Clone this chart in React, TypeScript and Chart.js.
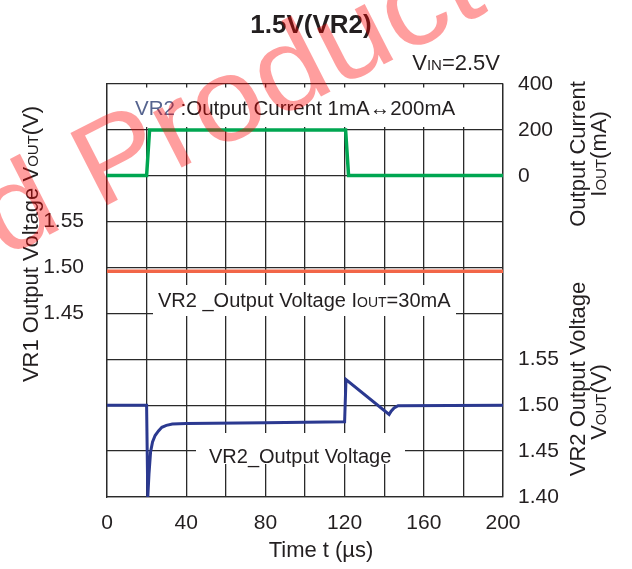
import React, { useEffect, useRef } from 'react';
import { Chart, registerables } from 'chart.js';

Chart.register(...registerables);

// ---- data ----
const timeCurrent = [0, 20, 21.5, 120.5, 122, 200];
const currentMA = [1, 1, 200, 200, 1, 1];

const timeVR1 = [0, 200];
const vr1Volts = [1.496, 1.496];

const timeVR2 = [0, 20, 20.6, 21.2, 22, 23, 24.3, 26, 27.7, 30, 33, 40, 80, 120, 120.7, 142.5, 143.5, 145, 147, 200];
const vr2Volts = [1.5, 1.5, 1.4, 1.425, 1.449, 1.46, 1.467, 1.472, 1.476, 1.478, 1.4795, 1.48, 1.481, 1.482, 1.528, 1.49, 1.4935, 1.497, 1.4995, 1.5];

const xTickLabels = [0, 40, 80, 120, 160, 200];
const leftTickLabels = ['1.45', '1.50', '1.55'];
const currentTickLabels = [0, 200, 400];
const vr2TickLabels = ['1.40', '1.45', '1.50', '1.55'];

const X_MIN = 0, X_MAX = 200, X_STEP = 20;
const I_MIN = -1400, I_MAX = 400, I_STEP = 200;
const V1_MIN = 1.25, V1_MAX = 1.7, V1_STEP = 0.05;
const V2_MIN = 1.4, V2_MAX = 1.85;

const FONT = '"Liberation Sans", Arial, Helvetica, sans-serif';
const TEXT = '#231f20';

type Part = [string, number, string?];

function drawRich(ctx: CanvasRenderingContext2D, parts: Part[], x: number, y: number, align: 'left' | 'center' | 'right', angle = 0, weight = '') {
  ctx.save();
  ctx.translate(x, y);
  ctx.rotate(angle);
  ctx.textBaseline = 'alphabetic';
  ctx.textAlign = 'left';
  let total = 0;
  const widths = parts.map(([t, s]) => {
    ctx.font = `${weight} ${s}px ${FONT}`;
    const w = ctx.measureText(t).width;
    total += w;
    return w;
  });
  let cx = align === 'center' ? -total / 2 : align === 'right' ? -total : 0;
  parts.forEach(([t, s, c], i) => {
    ctx.font = `${weight} ${s}px ${FONT}`;
    ctx.fillStyle = c || TEXT;
    ctx.fillText(t, cx, 0);
    cx += widths[i];
  });
  ctx.restore();
}

const overlayPlugin = {
  id: 'overlay',
  beforeDatasetsDraw(chart: any) {
    const ctx = chart.ctx as CanvasRenderingContext2D;
    ctx.save();
    ctx.fillStyle = '#ffffff';
    ctx.fillRect(108.5, 87.5, 393, 39.5);
    ctx.fillRect(153, 285, 303, 31);
    ctx.fillRect(196, 433, 209, 31);
    ctx.restore();
  },
  afterDatasetsDraw(chart: any) {
    const ctx = chart.ctx as CanvasRenderingContext2D;
    drawRich(ctx, [['VR2', 20.5, '#56648f'], [' :Output Current 1mA\u2194200mA', 20.5]], 135, 115, 'left');
    drawRich(ctx, [['VR2 _Output Voltage I', 20], ['OUT', 14], ['=30mA', 20]], 158, 307, 'left');
    drawRich(ctx, [['VR2_Output Voltage', 20]], 209, 463, 'left');
  },
  afterDraw(chart: any) {
    const ctx = chart.ctx as CanvasRenderingContext2D;
    drawRich(ctx, [['1.5V(VR2)', 26]], 311, 32.5, 'center', 0, 'bold');
    drawRich(ctx, [['V', 22], ['IN', 15], ['=2.5V', 22]], 500, 69.5, 'right');
    drawRich(ctx, [['VR1 Output Voltage V', 22], ['OUT', 15], ['(V)', 22]], 37.5, 244, 'center', -Math.PI / 2);
    drawRich(ctx, [['Output Current', 22]], 585, 154, 'center', -Math.PI / 2);
    drawRich(ctx, [['I', 22], ['OUT', 15], ['(mA)', 22]], 606, 154, 'center', -Math.PI / 2);
    drawRich(ctx, [['VR2 Output Voltage', 22]], 585, 379, 'center', -Math.PI / 2);
    drawRich(ctx, [['V', 22], ['OUT', 15], ['(V)', 22]], 606, 402, 'center', -Math.PI / 2);
    drawRich(ctx, [['Time t (\u00b5s)', 22]], 321, 556.5, 'center');
    // watermark
    ctx.save();
    ctx.translate(98, 210);
    ctx.rotate(-27 * Math.PI / 180);
    ctx.scale(1.08, 1);
    ctx.font = `118px ${FONT}`;
    ctx.fillStyle = 'rgba(255,0,0,0.38)';
    ctx.textBaseline = 'alphabetic';
    ctx.textAlign = 'left';
    ctx.fillText('Product', 0, 0);
    ctx.textAlign = 'right';
    ctx.fillText('Discontinued ', 0, 0);
    ctx.restore();
  },
};

export default function App() {
  const ref = useRef<HTMLCanvasElement | null>(null);
  useEffect(() => {
    if (!ref.current) return;
    const tickFont = { family: FONT, size: 21 };
    const chart = new Chart(ref.current, {
      type: 'line',
      data: {
        datasets: [
          {
            label: 'Output Current',
            data: timeCurrent.map((t, i) => ({ x: t, y: currentMA[i] })),
            yAxisID: 'yI',
            borderColor: '#00a651',
            borderWidth: 3.5,
            pointRadius: 0,
            tension: 0,
          },
          {
            label: 'VR1 Output Voltage',
            data: timeVR1.map((t, i) => ({ x: t, y: vr1Volts[i] })),
            yAxisID: 'yV1',
            borderColor: '#f26648',
            borderWidth: 3.5,
            pointRadius: 0,
            tension: 0,
          },
          {
            label: 'VR2 Output Voltage',
            data: timeVR2.map((t, i) => ({ x: t, y: vr2Volts[i] })),
            yAxisID: 'yV2',
            borderColor: '#2b3990',
            borderWidth: 3,
            pointRadius: 0,
            tension: 0,
          },
        ],
      },
      options: {
        animation: false,
        responsive: true,
        maintainAspectRatio: false,
        layout: { padding: { top: 84, left: 0, right: 0, bottom: 0 } },
        plugins: { legend: { display: false }, title: { display: false }, tooltip: { enabled: false } },
        scales: {
          x: {
            type: 'linear',
            min: X_MIN,
            max: X_MAX,
            ticks: {
              stepSize: X_STEP,
              autoSkip: false,
              maxRotation: 0,
              padding: 14,
              font: tickFont,
              color: TEXT,
              callback: (v: any) => (xTickLabels.includes(Number(v)) ? String(v) : ''),
            },
            grid: { color: '#2a2a2a', lineWidth: 1.3, drawTicks: false },
            border: { display: true, color: '#2a2a2a', width: 1.3 },
            afterFit: (s: any) => { s.height = 72; },
          },
          yV1: {
            type: 'linear',
            position: 'left',
            min: V1_MIN,
            max: V1_MAX,
            ticks: {
              stepSize: V1_STEP,
              autoSkip: false,
              padding: 15,
              font: tickFont,
              color: TEXT,
              callback: (v: any) => {
                const s = Number(v).toFixed(2);
                return leftTickLabels.includes(s) ? s : '';
              },
            },
            grid: { display: false },
            border: { display: true, color: '#2a2a2a', width: 1.3 },
            afterFit: (s: any) => { s.width = 107; },
          },
          yI: {
            type: 'linear',
            position: 'right',
            min: I_MIN,
            max: I_MAX,
            ticks: {
              stepSize: I_STEP,
              autoSkip: false,
              padding: 15,
              font: tickFont,
              color: TEXT,
              callback: (v: any) => {
                const n = Number(v);
                if (currentTickLabels.includes(n)) return String(n);
                const vr2 = V2_MIN + ((n - I_MIN) / (I_MAX - I_MIN)) * (V2_MAX - V2_MIN);
                const s = vr2.toFixed(2);
                return vr2TickLabels.includes(s) ? s : '';
              },
            },
            grid: { color: '#2a2a2a', lineWidth: 1.3, drawTicks: false },
            border: { display: true, color: '#2a2a2a', width: 1.3 },
            afterFit: (s: any) => { s.width = 129; },
          },
          yV2: {
            type: 'linear',
            display: false,
            min: V2_MIN,
            max: V2_MAX,
          },
        },
      } as any,
      plugins: [overlayPlugin],
    });
    return () => chart.destroy();
  }, []);
  return (
    <div style={{ position: 'fixed', left: 0, top: 0, width: 632, height: 569, background: '#ffffff' }}>
      <canvas ref={ref} />
    </div>
  );
}
